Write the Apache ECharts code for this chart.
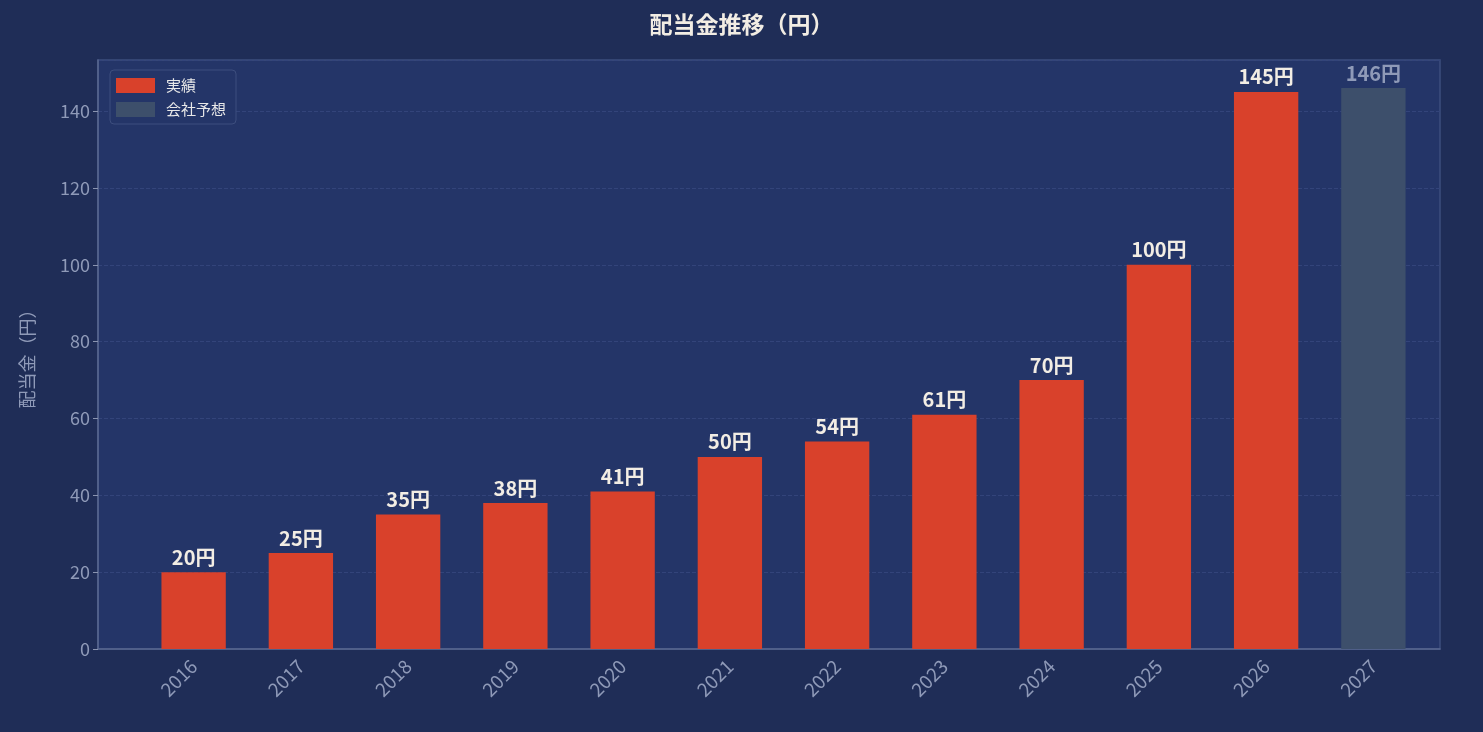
<!DOCTYPE html><html><head><meta charset="utf-8"><script src="https://cdn.jsdelivr.net/npm/echarts@6/dist/echarts.min.js"></script>
<style>html,body{margin:0;background:#1f2d57}#c{width:1483px;height:732px}</style></head><body><div id="c"></div><script>
const years=['2016','2017','2018','2019','2020','2021','2022','2023','2024','2025','2026','2027'];
const actual=[20,25,35,38,41,50,54,61,70,100,145,null];
const forecast=[null,null,null,null,null,null,null,null,null,null,null,146];
const F='"Noto Sans CJK JP","Noto Sans",sans-serif';
const c=echarts.init(document.getElementById('c'));
c.setOption({backgroundColor:'#1f2d57',animation:false,
title:{text:'配当金推移（円）',left:'center',top:8,textStyle:{color:'#f2ede4',fontSize:23,fontWeight:'bold',fontFamily:F}},
legend:{left:110,top:70,orient:'vertical',icon:'rect',itemWidth:39,itemHeight:15,itemGap:9,padding:[8,10,7,6],borderColor:'#3d4e7e',borderWidth:1,borderRadius:4,backgroundColor:'#243568',textStyle:{color:'#e8e8e8',fontSize:15,fontFamily:F,padding:[0,0,0,6]},data:['実績','会社予想']},
grid:[{left:98,right:43,top:60,bottom:83,show:true,backgroundColor:'#243568',borderColor:'#3d4e7e',borderWidth:1.5},
{left:140,right:56,top:60,bottom:83}],
xAxis:[{type:'category',gridIndex:0,data:[''],axisLine:{lineStyle:{color:'#5a6890',width:1.5}},axisTick:{show:false},axisLabel:{show:false}},
{type:'category',gridIndex:1,data:years,axisLine:{show:false},axisTick:{alignWithLabel:true,lineStyle:{color:'#8a94b0'}},axisLabel:{rotate:45,color:'#8f9ab8',fontSize:19,fontFamily:F,margin:14}}],
yAxis:[{type:'value',gridIndex:0,min:0,max:153.3,interval:20,name:'配当金（円）',nameLocation:'middle',nameGap:62,nameTextStyle:{color:'#8f9ab8',fontSize:18,fontFamily:F},
axisLine:{show:true,lineStyle:{color:'#5a6890',width:1.5}},axisTick:{show:true,lineStyle:{color:'#8a94b0'}},
axisLabel:{color:'#8f9ab8',fontSize:18,fontFamily:F,showMaxLabel:false},splitLine:{lineStyle:{color:'#33447a',type:'dashed'}}},
{type:'value',gridIndex:1,min:0,max:153.3,show:false}],
series:[
{name:'実績',type:'bar',xAxisIndex:1,yAxisIndex:1,stack:'a',data:actual,barWidth:'60%',itemStyle:{color:'#d9412b'},label:{show:true,position:'top',formatter:p=>p.value+'円',color:'#f2ede4',fontSize:20,fontWeight:'bold',fontFamily:F}},
{name:'会社予想',type:'bar',xAxisIndex:1,yAxisIndex:1,stack:'a',data:forecast,barWidth:'60%',itemStyle:{color:'#3d4f6b'},label:{show:true,position:'top',formatter:p=>p.value+'円',color:'#8f9ab8',fontSize:20,fontWeight:'bold',fontFamily:F}}
]});
</script></body></html>
